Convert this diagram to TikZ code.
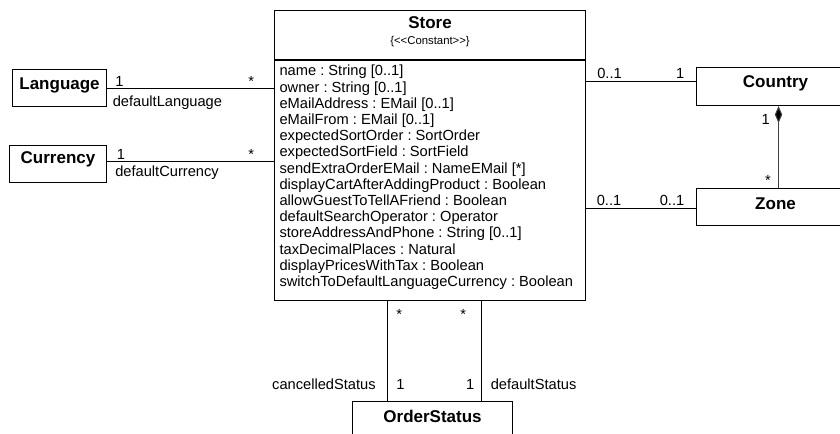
\documentclass[tikz,border=0pt]{standalone}
\usepackage{fontspec}
\setmainfont{Liberation Sans}
\usetikzlibrary{arrows.meta}

\begin{document}
\frenchspacing
\begin{tikzpicture}[x=0.75pt, y=-0.75pt,
  every node/.style={font=\fontsize{11}{13}\selectfont},
  umlclass/.style={rectangle, draw, line width=0.8pt, inner sep=0pt, anchor=north west,
    font=\fontsize{12.75}{15}\selectfont\bfseries, text height=15pt, text depth=12.75pt},
  role/.style={inner sep=0pt},
  assoc/.style={line width=0.75pt},
  comp/.style={line width=0.75pt, draw=black!75, -{Diamond[length=12.75pt, width=5.5pt, fill=black]}},
]
\useasboundingbox (0,0) rectangle (840,434);
\clip (0,0) rectangle (840,434);

% store class
\node[umlclass, minimum width=233.25pt, text height=13.5pt, text depth=23.25pt] (storehdr) at (274,10) {Store};
\node[font=\fontsize{8.5}{10}\selectfont, anchor=base, inner sep=0pt] (storestereo) at (storehdr.north |- 0,45) {\{<\kern0pt<Constant>\kern0pt>\}};
\node[draw, line width=0.8pt, anchor=north west, inner sep=0pt, minimum width=233.25pt, minimum height=180pt] (storeattr) at (storehdr.south west)
  {\parbox[c][180pt][t]{225.75pt}{\fontsize{11}{12.15}\selectfont\raggedright\frenchspacing
  \rule{0pt}{11.5pt}name : String [0..1]\\
  owner : String [0..1]\\
  eMailAddress : EMail [0..1]\\
  eMailFrom : EMail [0..1]\\
  expectedSortOrder : SortOrder\\
  expectedSortField : SortField\\
  sendExtraOrderEMail : NameEMail [*]\\
  displayCartAfterAddingProduct : Boolean\\
  allowGuestToTellAFriend : Boolean\\
  defaultSearchOperator : Operator\\
  storeAddressAndPhone : String [0..1]\\
  taxDecimalPlaces : Natural\\
  displayPricesWithTax : Boolean\\
  switchToDefaultLanguageCurrency : Boolean}};

% other classes
\node[umlclass, minimum width=70.5pt] (language) at (12,69) {Language};
\node[umlclass, minimum width=72.75pt, text height=13.5pt, text depth=14.25pt] (currency) at (9,145) {Currency};
\node[umlclass, minimum width=118.5pt, text depth=13.5pt] (country) at (696,67) {Country};
\node[umlclass, minimum width=118.5pt, text height=15.75pt, text depth=12pt] (zone) at (696,188) {Zone};
\node[umlclass, minimum width=120pt, text height=15.75pt, text depth=30pt] (orderstatus) at (352,401) {OrderStatus};

% associations
\draw[assoc] (language.east |- 0,89) -- (storeattr.west |- 0,89);
\draw[assoc] (currency.east |- 0,162) -- (storeattr.west |- 0,162);
\draw[assoc] (storeattr.east |- 0,82) -- (country.west |- 0,82);
\draw[assoc] (storeattr.east |- 0,209) -- (zone.west |- 0,209);
\draw[assoc] (storeattr.south -| 387,0) -- (orderstatus.north -| 387,0);
\draw[assoc] (storeattr.south -| 481,0) -- (orderstatus.north -| 481,0);
\draw[comp] ([xshift=2.25pt]zone.north) -- ([xshift=2.25pt]country.south);

% multiplicities and roles
\node[role, anchor=base west] (langone) at (115,87) {1};
\node[role, anchor=base west] (langmany) at (248,87) {*};
\node[role, anchor=base west] (langrole) at (112.5,107) {defaultLanguage};
\node[role, anchor=base west] (curone) at (116.5,160) {1};
\node[role, anchor=base west] (curmany) at (248,160) {*};
\node[role, anchor=base west] (currole) at (115,177) {defaultCurrency};
\node[role, anchor=base west] (ctrystore) at (597,79) {0..1};
\node[role, anchor=base east] (ctryone) at (684.5,79) {1};
\node[role, anchor=base west] (zonestore) at (596.5,206) {0..1};
\node[role, anchor=base west] (zoneone) at (659.5,206) {0..1};
\node[role, anchor=base east] (compone) at (770,125) {1};
\node[role, anchor=base east] (compmany) at (771,186) {*};
\node[role, anchor=base west] (cancmany) at (396,320) {*};
\node[role, anchor=base west] (defmany) at (460,320) {*};
\node[role, anchor=base west] (cancone) at (396,390) {1};
\node[role, anchor=base east] (defone) at (474.5,390) {1};
\node[role, anchor=base east] (cancrole) at (376,390) {cancelledStatus};
\node[role, anchor=base west] (defrole) at (490.5,390) {defaultStatus};
\end{tikzpicture}
\end{document}
